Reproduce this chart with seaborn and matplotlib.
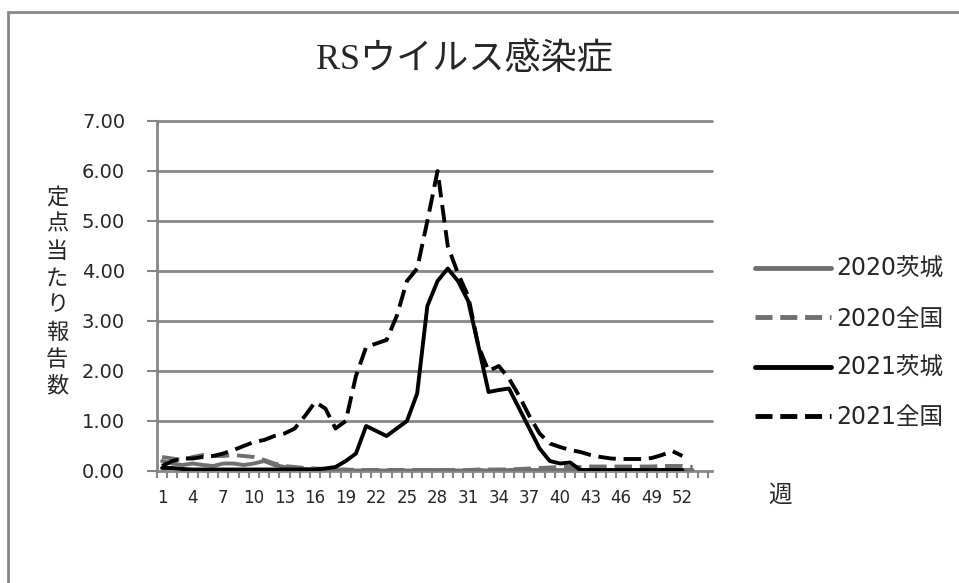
import numpy as np
import pandas as pd
import matplotlib
matplotlib.use("Agg")
import matplotlib.pyplot as plt
import seaborn as sns
from matplotlib.lines import Line2D
from matplotlib.patches import Rectangle

# ---------------- data ----------------
weeks_2020 = list(range(1, 54))
weeks_2021 = list(range(1, 53))

ibaraki_2020 = [0.20, 0.15, 0.12, 0.15, 0.12, 0.10, 0.15, 0.15, 0.12, 0.15,
                0.20, 0.12, 0.08, 0.05, 0.04, 0.03, 0.02, 0.02, 0.01, 0.01,
                0.01, 0.01, 0.01, 0.01, 0.01, 0.01, 0.02, 0.02, 0.01, 0.01,
                0.01, 0.02, 0.01, 0.01, 0.02, 0.02, 0.02, 0.02, 0.02, 0.02,
                0.02, 0.02, 0.02, 0.02, 0.02, 0.02, 0.02, 0.02, 0.02, 0.02,
                0.02, 0.02, 0.02]
national_2020 = [0.28, 0.25, 0.22, 0.28, 0.32, 0.30, 0.30, 0.32, 0.30, 0.28,
                 0.22, 0.15, 0.10, 0.08, 0.06, 0.05, 0.04, 0.03, 0.03, 0.02,
                 0.02, 0.02, 0.02, 0.02, 0.02, 0.02, 0.02, 0.02, 0.02, 0.02,
                 0.02, 0.03, 0.03, 0.03, 0.03, 0.04, 0.05, 0.06, 0.07, 0.08,
                 0.08, 0.08, 0.09, 0.09, 0.09, 0.09, 0.09, 0.09, 0.09, 0.10,
                 0.10, 0.10, 0.08]
ibaraki_2021 = [0.06, 0.06, 0.04, 0.03, 0.03, 0.03, 0.03, 0.03, 0.03, 0.03,
                0.03, 0.03, 0.03, 0.03, 0.03, 0.03, 0.05, 0.08, 0.20, 0.35,
                0.90, 0.80, 0.70, 0.85, 1.00, 1.55, 3.30, 3.80, 4.05, 3.80,
                3.40, 2.50, 1.58, 1.62, 1.65, 1.25, 0.85, 0.45, 0.20, 0.15,
                0.17, 0.02, 0.02, 0.02, 0.02, 0.02, 0.02, 0.02, 0.02, 0.02,
                0.02, 0.02]
national_2021 = [0.10, 0.20, 0.25, 0.25, 0.28, 0.30, 0.35, 0.42, 0.50, 0.58,
                 0.62, 0.70, 0.75, 0.85, 1.10, 1.38, 1.25, 0.85, 1.00, 1.90,
                 2.48, 2.55, 2.62, 3.10, 3.80, 4.05, 5.00, 6.00, 4.50, 3.95,
                 3.50, 2.50, 2.00, 2.10, 1.85, 1.50, 1.10, 0.75, 0.55, 0.48,
                 0.42, 0.38, 0.32, 0.28, 0.25, 0.24, 0.24, 0.24, 0.26, 0.32,
                 0.40, 0.30]

series_names = ["2020茨城", "2020全国", "2021茨城", "2021全国"]
title = "RSウイルス感染症"
ylabel = "定点当たり報告数"
xlabel = "週"
yticks = [0, 1, 2, 3, 4, 5, 6, 7]
xtick_weeks = list(range(1, 53, 3))

# ---------------- build frame ----------------
frames = []
for name, wk, vals in [(series_names[0], weeks_2020, ibaraki_2020),
                       (series_names[1], weeks_2020, national_2020),
                       (series_names[2], weeks_2021, ibaraki_2021),
                       (series_names[3], weeks_2021, national_2021)]:
    frames.append(pd.DataFrame({"week": wk, "value": vals, "series": name}))
df = pd.concat(frames, ignore_index=True)

# ---------------- style ----------------
sns.set_theme(style="white")
plt.rcParams['font.family'] = ['DejaVu Sans', 'Noto Sans CJK JP']
plt.rcParams['lines.dash_capstyle'] = 'butt'

GRID = "#878787"
GRAY = "#6f6f6f"
palette = {series_names[0]: GRAY, series_names[1]: GRAY,
           series_names[2]: "black", series_names[3]: "black"}
dashes = {series_names[0]: "", series_names[1]: (4.5, 2),
          series_names[2]: "", series_names[3]: (4.5, 2)}

fig = plt.figure(figsize=(9.59, 5.83), dpi=100)
ax = fig.add_axes([157/959, 112/583, 555/959, 350/583])

for y in yticks[1:]:
    ax.axhline(y, color=GRID, lw=2, zorder=0, clip_on=False)

sns.lineplot(data=df, x="week", y="value", hue="series", style="series",
             palette=palette, dashes=dashes, linewidth=2.8, ax=ax,
             legend=False, sort=False, estimator=None, zorder=3)

ax.set_xlim(0.5, 54.9)
ax.set_ylim(0, 7)
ax.set_xlabel("")
ax.set_ylabel("")

for s in ["top", "right"]:
    ax.spines[s].set_visible(False)
for s in ["left", "bottom"]:
    ax.spines[s].set_color(GRID)
    ax.spines[s].set_linewidth(2)

ax.set_yticks(yticks)
ax.set_yticklabels([f"{v:.2f}" for v in yticks], fontsize=14)
ax.tick_params(axis="y", direction="out", length=7, width=1.5, color=GRID, pad=16, left=True)

ax.set_xticks(xtick_weeks)
ax.set_xticklabels([str(w) for w in xtick_weeks], fontsize=12)
ax.set_xticks(np.arange(0.5, 55, 1.0), minor=True)
ax.tick_params(axis="x", which="major", length=0, pad=13, bottom=True)
ax.tick_params(axis="x", which="minor", direction="out", length=5, width=1.5,
               color=GRID, bottom=True)

# title
fig.text(464/959, 1 - 60/583, title, ha="center", va="center", fontsize=26,
         family=['Liberation Serif', 'Noto Sans CJK JP'])

# vertical y label (stacked characters)
for i, ch in enumerate(ylabel):
    fig.text(57/959, 1 - (197 + 27*i)/583, ch, ha="center", va="center", fontsize=16,
             family=['Noto Sans CJK JP'])

fig.text(780/959, 1 - 495/583, xlabel, ha="center", va="center", fontsize=17,
         family=['Noto Sans CJK JP'])

# legend
handles = [Line2D([], [], color=palette[n], lw=3.5,
                  linestyle="-" if dashes[n] == "" else (0, (3.5, 1.6)))
           for n in series_names]
fig.legend(handles, series_names, loc="upper left",
           bbox_to_anchor=(755/959, 1 - 257/583), frameon=False, fontsize=17,
           handlelength=3.2, handletextpad=0.25, labelspacing=1.08, borderpad=0,
           borderaxespad=0)

# chart border
fig.patches.append(Rectangle((8/959, -0.05), 1.0, 1 - 12/583 + 0.05,
                             transform=fig.transFigure, fill=False,
                             edgecolor=GRID, lw=2))

fig.savefig("out.png", dpi=100)
